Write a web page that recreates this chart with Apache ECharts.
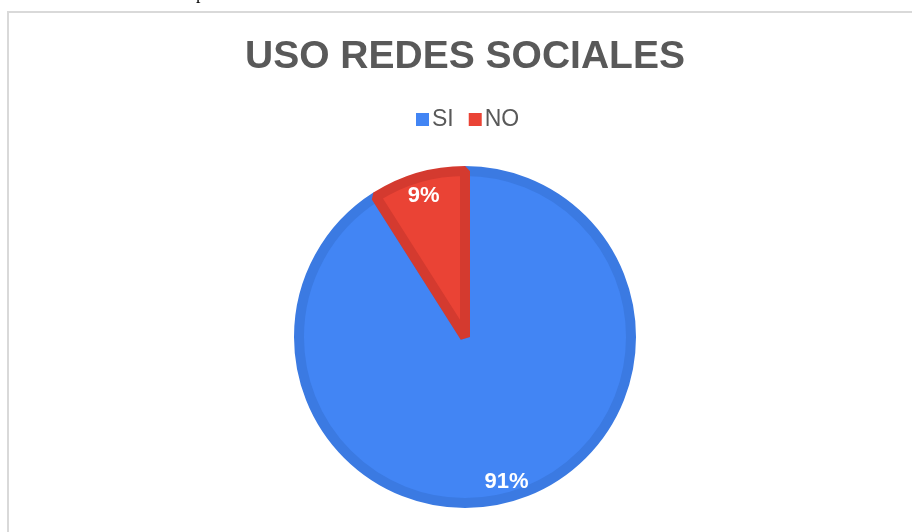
<!DOCTYPE html>
<html>
<head>
<meta charset="utf-8">
<script src="https://cdn.jsdelivr.net/npm/echarts@6/dist/echarts.min.js"></script>
<style>
  html, body { margin: 0; padding: 0; background: #fff; }
  #chart { width: 912px; height: 532px; }
</style>
</head>
<body>
<div id="chart"></div>
<script>
// datos del grafico
const categories = ['SI', 'NO'];
const values = [91, 9];
const fillColors = ['#4285f4', '#ea4335'];
const edgeColors = ['#3b7ae2', '#d43a2f'];

const myChart = echarts.init(document.getElementById('chart'));

const pieData = categories.map(function (name, i) {
	return {
		name: name,
		value: values[i],
		itemStyle: { color: fillColors[i], borderColor: edgeColors[i] }
	};
});

const option = {
	backgroundColor: '#ffffff',
	animation: false,
	color: fillColors,
	title: {
		text: 'USO REDES SOCIALES',
		left: 240,
		top: 33,
		textStyle: {
			fontFamily: 'Liberation Sans, Arial, sans-serif',
			fontWeight: 'bold',
			fontSize: 39,
			color: '#595959'
		}
	},
	legend: {
		top: 103,
		left: 411,
		itemWidth: 13,
		itemHeight: 13,
		itemGap: 15,
		icon: 'rect',
		itemStyle: { borderWidth: 0 },
		textStyle: {
			fontFamily: 'Liberation Sans, Arial, sans-serif',
			fontSize: 23,
			color: '#595959',
			padding: [0, 0, 0, -2]
		},
		data: categories
	},
	graphic: [
		{
			type: 'rect',
			silent: true,
			shape: { x: 8, y: 12, width: 930, height: 560 },
			style: { fill: 'none', stroke: '#d9d9d9', lineWidth: 2 }
		},
		{
			type: 'text',
			silent: true,
			left: 196,
			top: -15,
			style: { text: 'p', font: '18px "Liberation Serif", serif', fill: '#000' }
		}
	],
	series: [
		{
			name: 'USO REDES SOCIALES',
			type: 'pie',
			center: [465, 337],
			radius: [0, 166],
			startAngle: 90,
			clockwise: true,
			silent: true,
			itemStyle: { borderWidth: 10, borderJoin: 'bevel' },
			label: { show: false },
			labelLine: { show: false },
			data: pieData
		},
		{
			// serie solo para las etiquetas de porcentaje
			name: 'etiquetas',
			type: 'pie',
			center: [465, 339],
			radius: [120, 171],
			startAngle: 90,
			clockwise: true,
			silent: true,
			itemStyle: { color: 'rgba(0,0,0,0)', borderWidth: 0 },
			label: {
				show: true,
				position: 'inside',
				formatter: '{d}%',
				fontFamily: 'Liberation Sans, Arial, sans-serif',
				fontWeight: 'bold',
				fontSize: 22,
				color: '#ffffff'
			},
			labelLine: { show: false },
			data: categories.map(function (name, i) {
				return { name: name, value: values[i] };
			})
		}
	]
};

myChart.setOption(option);
</script>
</body>
</html>
